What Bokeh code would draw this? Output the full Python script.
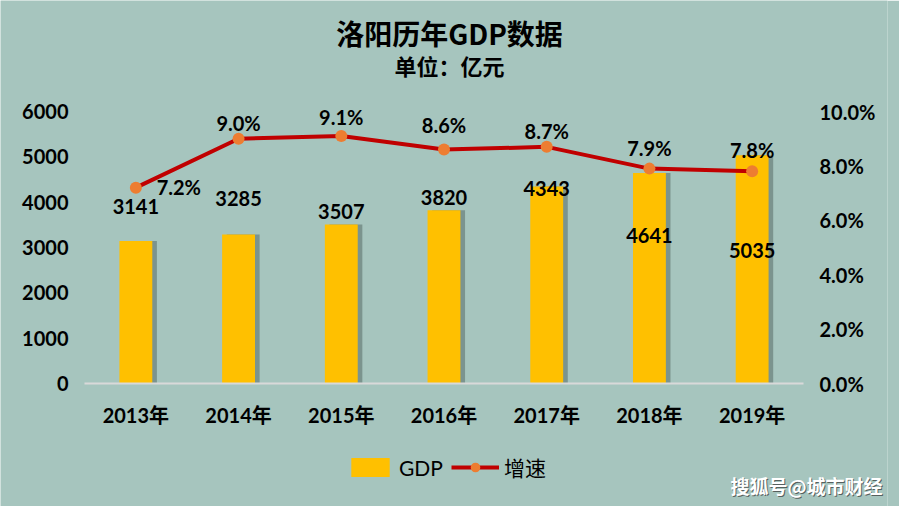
from bokeh.plotting import figure
from bokeh.models import (ColumnDataSource, Range1d, LinearAxis, FixedTicker,
                          PrintfTickFormatter, LabelSet, Label, Legend, LegendItem,
                          FactorRange)
from bokeh.transform import dodge
from bokeh.core.properties import value
from bokeh.embed import file_html
from bokeh.resources import INLINE

# ---- data ----
years = ["2013年", "2014年", "2015年", "2016年", "2017年", "2018年", "2019年"]
gdp = [3141, 3285, 3507, 3820, 4343, 4641, 5035]
growth = [7.2, 9.0, 9.1, 8.6, 8.7, 7.9, 7.8]
gdp_ticks = [0, 1000, 2000, 3000, 4000, 5000, 6000]
pct_ticks = [0, 2, 4, 6, 8, 10]

# ---- label placement (screen px offsets, style only) ----
gdp_label_dy = [35, 36, 13, 13, -2, -62, -95]
gr_label_dx = [43, 0, 0, 0, 0, 0, 0]
gr_label_dy = [1, 16, 19, 25, 16, 21, 21]

BG = "#A6C5BE"
FONT = "Lato, Noto Sans CJK SC, sans-serif"
CJK = "Noto Sans CJK SC"

# layout geometry (pixels)
W, H = 899, 506
RIGHT_BAND = 12          # unused strip at the right edge
PLOT_L, PLOT_R = 84, 803 # canvas x of the category area
Y6000_PX = 111           # canvas y of the 6000 line
Y0_PX = 383              # canvas y of the zero line
NCAT = len(years)
CW = (PLOT_R - PLOT_L) / NCAT
XPAD = PLOT_L / CW
PPU = (Y0_PX - Y6000_PX) / 6000.0
Y_START = -(H - Y0_PX) / PPU
Y_END = Y0_PX / PPU
P_START, P_END = Y_START / 600.0, Y_END / 600.0

src = ColumnDataSource(dict(
    year=years, gdp=gdp, growth=growth,
    gdp_txt=[str(v) for v in gdp],
    gr_txt=[f"{g:.1f}%" for g in growth],
    gdy=gdp_label_dy, rdx=gr_label_dx, rdy=gr_label_dy,
))

p = figure(x_range=FactorRange(*years, range_padding=XPAD,
                               range_padding_units="absolute"),
           y_range=Range1d(Y_START, Y_END),
           width=W, height=H, output_backend="svg", toolbar_location=None,
           min_border_left=0, min_border_right=RIGHT_BAND, min_border_top=0,
           min_border_bottom=0, background_fill_color=BG,
           border_fill_color=BG, outline_line_color=None)
p.extra_y_ranges = {"pct": Range1d(P_START, P_END)}

p.xgrid.visible = False
p.ygrid.visible = False

def style_ax(ax, standoff):
    ax.major_tick_line_color = None
    ax.minor_tick_line_color = None
    ax.major_tick_out = 0
    ax.minor_tick_out = 0
    ax.major_label_text_font = FONT
    ax.major_label_text_font_style = "bold"
    ax.major_label_text_font_size = "20px"
    ax.major_label_text_color = "black"
    ax.major_label_standoff = standoff

ya = p.yaxis[0]
ya.ticker = FixedTicker(ticks=gdp_ticks)
ya.axis_line_color = None
ya.fixed_location = 0
style_ax(ya, 16)

ra = LinearAxis(y_range_name="pct", ticker=FixedTicker(ticks=pct_ticks),
                formatter=PrintfTickFormatter(format="%.1f%%"))
ra.axis_line_color = None
ra.fixed_location = NCAT
style_ax(ra, 16)
p.add_layout(ra, "right")

xa = p.xaxis[0]
xa.fixed_location = 0
xa.bounds = (0, NCAT)
xa.axis_line_color = "#D9D9D9"
xa.axis_line_width = 2
style_ax(xa, 19)

# bars with shadow
p.vbar(x=dodge("year", 0.045, range=p.x_range), top="gdp", width=0.32,
       source=src, fill_color="#3c4a47", fill_alpha=0.4, line_color=None)
bars = p.vbar(x="year", top="gdp", width=0.32, source=src,
              fill_color="#FFC000", line_color=None)

# growth line
ln = p.line(x="year", y="growth", source=src, y_range_name="pct",
            line_color="#C00000", line_width=4)
mk = p.scatter(x="year", y="growth", source=src, y_range_name="pct",
               size=12, fill_color="#ED7D31", line_color=None)

# data labels
p.add_layout(LabelSet(x="year", y="gdp", text="gdp_txt", source=src,
                      y_offset="gdy", text_align="center", text_baseline="middle",
                      text_font=value(FONT), text_font_style="bold",
                      text_font_size="20px", text_color="black"))
p.add_layout(LabelSet(x="year", y="growth", text="gr_txt", source=src,
                      y_range_name="pct", x_offset="rdx", y_offset="rdy",
                      text_align="center", text_baseline="middle",
                      text_font=value(FONT), text_font_style="bold",
                      text_font_size="20px", text_color="black"))

# helpers converting canvas pixels to the plot's coordinates (layout only)
def ypx(py):
    return (Y0_PX - py) / PPU

def xpx(px):
    return (px - PLOT_L) / CW

p.add_layout(Label(x=xpx(449), y=ypx(32), text="洛阳历年GDP数据", text_align="center",
                   text_baseline="middle", text_font=CJK, text_font_style="bold",
                   text_font_size="28px", text_color="black"))
p.add_layout(Label(x=xpx(449), y=ypx(64), text="单位：亿元", text_align="center",
                   text_baseline="middle", text_font=CJK, text_font_style="bold",
                   text_font_size="22px", text_color="black"))

# legend
legend = Legend(items=[LegendItem(label="GDP", renderers=[bars]),
                       LegendItem(label="增速", renderers=[ln, mk])],
                orientation="horizontal", location=(346, 24),
                glyph_width=48, glyph_height=24, label_standoff=5, spacing=8,
                padding=0, margin=0, border_line_color=None,
                background_fill_alpha=0, label_text_font=FONT,
                label_text_font_size="21px", label_text_color="black")
p.add_layout(legend, "center")

# watermark
p.add_layout(Label(x=xpx(806), y=ypx(485), x_offset=1, y_offset=-1, text="搜狐号@城市财经",
                   text_align="center", text_baseline="middle", text_font=CJK,
                   text_font_style="bold", text_font_size="19px",
                   text_color="#333333", text_alpha=0.7))
p.add_layout(Label(x=xpx(806), y=ypx(485), text="搜狐号@城市财经",
                   text_align="center", text_baseline="middle", text_font=CJK,
                   text_font_style="bold", text_font_size="19px",
                   text_color="white"))

open("out.html", "w").write(file_html(p, INLINE))
